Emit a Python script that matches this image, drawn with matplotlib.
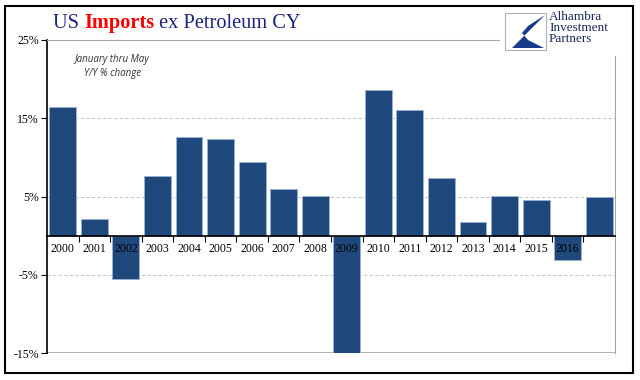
import numpy as np
import matplotlib.pyplot as plt
from matplotlib.patches import Rectangle, Polygon
from matplotlib.ticker import FixedLocator, FuncFormatter
from matplotlib.transforms import offset_copy

years = ['2000', '2001', '2002', '2003', '2004', '2005', '2006', '2007', '2008',
         '2009', '2010', '2011', '2012', '2013', '2014', '2015', '2016', '']
values = [16.4, 2.1, -5.6, 7.6, 12.6, 12.3, 9.4, 5.9, 5.1,
          -15.0, 18.6, 16.0, 7.4, 1.7, 5.1, 4.6, -3.1, 5.0]
yticks = [25, 15, 5, -5, -15]

navy = '#1f497d'
serif = ['Liberation Serif', 'DejaVu Serif']

fig = plt.figure(figsize=(6.4, 3.8), dpi=100)
ax = fig.add_axes([47/640, 1-353/380, (615-47)/640, (353-40)/380])

x = np.arange(len(values))
ax.bar(x, values, width=0.85, color=navy, edgecolor='#9db3d6', linewidth=0.6, zorder=2)

ax.set_xlim(-0.5, len(values) - 0.5)
ax.set_ylim(-15, 25)

# grid lines
for g in [15, 5, -5]:
    ax.axhline(g, color='#c8c8c8', lw=0.8, ls=(0, (3, 2)), zorder=0)
ax.axhline(-15, color='#a6a6a6', lw=1.2, zorder=1)

ax.spines['top'].set_color('#a6a6a6')
ax.spines['right'].set_color('#a6a6a6')
ax.spines['left'].set_color('black')
ax.spines['left'].set_linewidth(1.2)
ax.spines['bottom'].set_position(('data', 0))
ax.spines['bottom'].set_color('black')
ax.spines['bottom'].set_linewidth(1.2)
ax.spines['bottom'].set_zorder(4)

ax.set_yticks(yticks)
ax.yaxis.set_major_formatter(FuncFormatter(lambda v, p: f'{int(v)}%'))
ax.tick_params(axis='y', length=4, width=0.8, pad=2, labelsize=8.5)
for lab in ax.get_yticklabels():
    lab.set_fontfamily(serif)

ax.xaxis.set_major_locator(FixedLocator(x[:-1] + 0.5))
ax.xaxis.set_major_formatter(FuncFormatter(lambda v, p: ''))
ax.tick_params(axis='x', which='major', length=4, width=0.8, direction='out')

# category labels just below the zero line, drawn above the bars
lab_tr = offset_copy(ax.transData, fig=fig, y=-5, units='points')
for xi, yr in zip(x, years):
    ax.text(xi, 0, yr, transform=lab_tr, ha='center', va='top', fontsize=8.5,
            fontfamily=serif, color='black', zorder=6)

ax.text(0.115, 0.955, 'January thru May\nY/Y % change', transform=ax.transAxes,
        ha='center', va='top', fontsize=7, style='italic', linespacing=1.4,
        fontfamily=['Open Sans', 'DejaVu Sans'], color='#333333')

# title in pieces
fig.canvas.draw()
r = fig.canvas.get_renderer()
tx, ty = 53/640, 1-28/380
parts = [('US ', '#1a237e', 'normal'), ('Imports', '#ff0000', 'bold'),
         (' ex Petroleum CY', '#1a237e', 'normal')]
for s, c, w in parts:
    t = fig.text(tx, ty, s, color=c, fontweight=w, fontsize=14.7,
                 fontfamily=serif, ha='left', va='baseline')
    bb = t.get_window_extent(renderer=r)
    tx += bb.width / fig.bbox.width

# logo area
fig.patches.append(Rectangle((500/640, 1-56/380), 132/640, 50/380,
                             transform=fig.transFigure, facecolor='white',
                             edgecolor='none', zorder=3))
fig.patches.append(Rectangle((505/640, 1-50/380), 41/640, 37/380,
                             transform=fig.transFigure, facecolor='white',
                             edgecolor='#b0b0b0', lw=0.8, zorder=4))
pts = [(545, 15), (512, 48), (544, 48), (528, 40), (522, 33), (528, 26)]
fig.patches.append(Polygon([(px/640, 1-py/380) for px, py in pts], closed=True,
                           transform=fig.transFigure, facecolor='#1a3a8a',
                           edgecolor='none', zorder=5))
fig.text(549/640, 1-11/380, 'Alhambra\nInvestment\nPartners', ha='left', va='top',
         fontsize=9.5, fontfamily=serif, color='#1a2a5a', linespacing=0.9, zorder=6)

# outer frame
fig.patches.append(Rectangle((5/640, 1-373/380), 628/640, 367/380,
                             transform=fig.transFigure, facecolor='none',
                             edgecolor='black', lw=1.5, zorder=10))

fig.savefig('out.png', dpi=100)
